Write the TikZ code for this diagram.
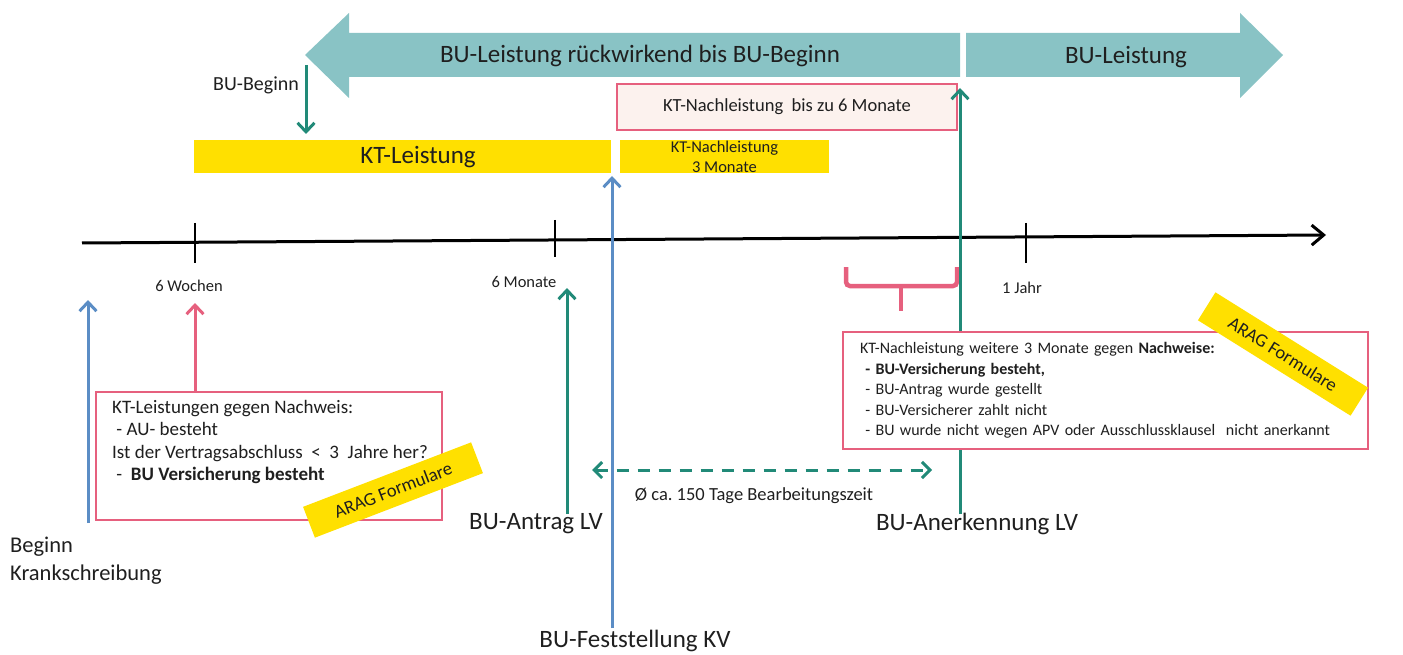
\documentclass[tikz,border=0pt]{standalone}
\usepackage{fontspec}
\setmainfont{Carlito}
\usepackage{xcolor}
\usepackage{tikz}
\usetikzlibrary{arrows.meta}
\frenchspacing

\definecolor{buteal}{HTML}{89C3C5}
\definecolor{bugreen}{HTML}{218A78}
\definecolor{kvblue}{HTML}{5B8DC5}
\definecolor{ktpink}{HTML}{E6607E}
\definecolor{ktyellow}{HTML}{FFE000}
\definecolor{ktrose}{HTML}{FCF2EE}

\begin{document}
\begin{tikzpicture}[x=1pt,y=-1pt,
every node/.style={inner sep=0pt,text=black!88},
bigtxt/.style={font=\fontsize{25}{30}\selectfont},
midtxt/.style={font=\fontsize{18.5}{22.5}\selectfont},
smalltxt/.style={font=\fontsize{16.5}{20}\selectfont},
ktbar/.style={fill=ktyellow},
pinkbox/.style={draw=ktpink,line width=1.8pt},
tag/.style={fill=ktyellow,minimum width=180,minimum height=33,font=\fontsize{18.5}{22}\selectfont},
garrow/.style={bugreen,line width=3pt,-{Straight Barb[length=9pt,width=17pt]}},
barrow/.style={kvblue,line width=3pt,-{Straight Barb[length=9pt,width=17pt]}},
parrow/.style={ktpink,line width=3pt,-{Straight Barb[length=9pt,width=17pt]}}]
\useasboundingbox(0,0)rectangle(1403,655);
% BU-Leistung
\fill[buteal](305,55)--(349,13)--(349,33)--(960,33)--(960,77)--(349,77)--(349,98)--cycle;
\fill[buteal](966,33)--(1240,33)--(1240,13)--(1283,55)--(1240,98)--(1240,77)--(966,77)--cycle;
\node[bigtxt](rueckwirkend)at(640,56){BU-Leistung rückwirkend bis BU-Beginn};
\node[bigtxt](buleistung)at(1126,57){BU-Leistung};
\node[font=\fontsize{20}{24}\selectfont](bubeginn)at(256,85){BU-Beginn};
\coordinate(bubeginnfoot)at(306,65);
\coordinate(bubeginntip)at(306,134);
\draw[garrow](bubeginnfoot)--(bubeginntip);
% KT
\node[ktbar,minimum width=417,minimum height=33](ktleistung)at(402.5,156.5){};
\node[bigtxt](ktleistungtxt)at(418,157){KT-Leistung};
\node[ktbar,smalltxt,align=center,minimum width=209,minimum height=33](ktnach3)at(724.5,156.5){KT-Nachleistung\\3 Monate};
\node[pinkbox,fill=ktrose,midtxt,minimum width=340,minimum height=46](ktnach6)at(787,107){KT-Nachleistung\ \ bis zu 6 Monate};
% Zeitachse
\coordinate(start)at(82,243);
\coordinate(ende)at(1326,235);
\draw[line width=3pt,-{Straight Barb[length=12pt,width=20pt]}](start)--(ende);
\draw[line width=2.5pt](195,223)--(195,263)
(555,220)--(555,257)
(1026,223)--(1026,263);
\node[smalltxt](wochen)at(189,286){6 Wochen};
\node[smalltxt](monate)at(524,282){6 Monate};
\node[smalltxt](jahr)at(1022,288){1 Jahr};
% Klammer
\draw[ktpink,line width=4.5pt,rounded corners=4pt](846,267)--(846,286)--(957,286)--(957,267);
\draw[ktpink,line width=4.5pt](901,286)--(901,311);
% Pfeile
\node[font=\fontsize{22.5}{28}\selectfont,align=left,anchor=west](beginn)at(10,561){Beginn\\Krankschreibung};
\coordinate(beginnfoot)at(88,523);
\coordinate(beginntip)at(88,300);
\draw[barrow](beginnfoot)--(beginntip);
\node[bigtxt](antrag)at(536,524){BU-Antrag LV};
\coordinate(antragfoot)at(567,514);
\coordinate(antragtip)at(567,288);
\draw[garrow](antragfoot)--(antragtip);
\node[bigtxt](feststellung)at(635,641){BU-Feststellung KV};
\coordinate(feststellungfoot)at(612,628);
\coordinate(feststellungtip)at(612,176);
\draw[barrow](feststellungfoot)--(feststellungtip);
\node[bigtxt](anerkennung)at(977,524){BU-Anerkennung LV};
\coordinate(anerkennungfoot)at(960,514);
\coordinate(anerkennungtip)at(960,88);
\draw[garrow](anerkennungfoot)--(anerkennungtip);
% Bearbeitungszeit
\coordinate(antragzeit)at(592,470);
\coordinate(anerkennungzeit)at(932,470);
\draw[bugreen,line width=3pt,dash pattern=on 12pt off 9pt,{Straight Barb[length=8pt,width=16pt]}-{Straight Barb[length=8pt,width=16pt]}](antragzeit)--(anerkennungzeit);
\node[midtxt](dauer)at(754,496){Ø ca. 150 Tage Bearbeitungszeit};
% Nachweise
\node[pinkbox,fill=white,minimum width=346,minimum height=128](ktbox)at(269,456){};
\node[font=\fontsize{19}{22.5}\selectfont,align=left,anchor=north west](kttext)at(112,400){KT-Leistungen gegen Nachweis:\\
\ - AU- besteht\\
Ist der Vertragsabschluss \ <\ \ 3\ \ Jahre her?\\
\ -\ \ \textbf{BU Versicherung besteht}};
\coordinate(wochentip)at(195,303);
\draw[parrow](ktbox.north-|wochentip)--(wochentip);
\node[tag,rotate=21](araglinks)at(393,490){ARAG Formulare};
\node[pinkbox,fill=white,font=\fontsize{16}{20.5}\selectfont,align=left,text width=491,inner xsep=17,minimum height=117](bubox)at(1105.5,390.5){KT-Nachleistung\ weitere 3 Monate gegen \textbf{Nachweise:}\\
\ \textbf{- BU-Versicherung besteht,}\\
\ - BU-Antrag wurde gestellt\\
\ - BU-Versicherer zahlt nicht\\
\ - BU wurde nicht\ wegen APV oder Ausschlussklausel\ \ nicht anerkannt};
\node[tag,rotate=-32](aragrechts)at(1283,354){ARAG Formulare};
\end{tikzpicture}
\end{document}
